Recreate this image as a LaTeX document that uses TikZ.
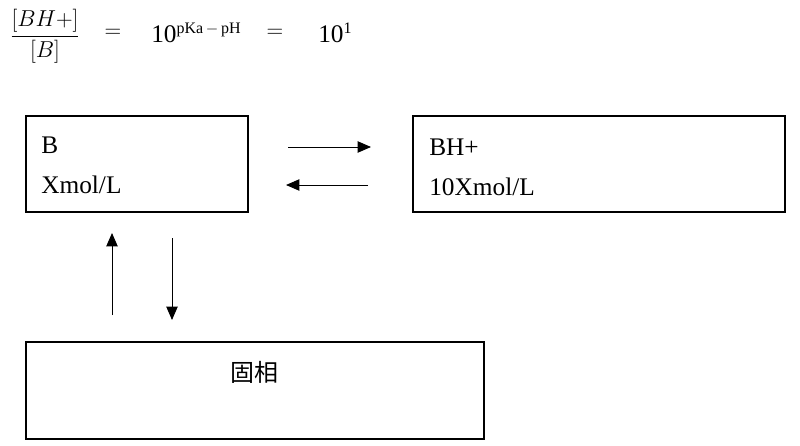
\documentclass[tikz,border=0pt]{standalone}
\usepackage{fontspec}
\setmainfont{Liberation Serif}
\newfontfamily\jpfont{Noto Sans CJK JP}
\usetikzlibrary{arrows.meta, positioning}

\begin{document}
\begin{tikzpicture}[
        x=0.75pt, y=-0.75pt, >=Triangle, font=\fontsize{19}{22}\selectfont,
        box/.style={draw, line width=1.4pt, anchor=north west, inner sep=0pt},
        lbl/.style={anchor=base west, inner sep=0pt},
        eq/.style={inner sep=0pt},
        ar/.style={-{Triangle[length=10pt, width=8.5pt]}, line width=0.7pt},
      ]
        \useasboundingbox (0,0) rectangle (800,446);
        % formula line
        \node[eq] (frac) at (45,36) {$\displaystyle\frac{[BH+]}{[B]}$};
        \node[eq] (eq1) at (113,33) {$=$};
        \node[eq, anchor=base west] (pow) at (151,42) {10\textsuperscript{\fontsize{12}{13}\selectfont pKa\,$-$\,pH}};
        \node[eq] (eq2) at (275,33) {$=$};
        \node[eq, anchor=base west] (res) at (318,42) {10\textsuperscript{\fontsize{12}{13}\selectfont 1}};
        % boxes
        \node[box, minimum width=166.5pt, minimum height=72pt] (base) at (25,115) {};
        \node[box, minimum width=279pt, minimum height=72pt] (acid) at (412,115) {};
        \node[box, minimum width=343.5pt, minimum height=72.75pt] (solid) at (25,341) {};
        \node[lbl] (bname) at (41,153) {B};
        \node[lbl] (bconc) at (41,193) {Xmol/L};
        \node[lbl] (aname) at (429,155) {BH+};
        \node[lbl] (aconc) at (429,195) {10Xmol/L};
        \node[eq] (sname) at (254,372) {\jpfont\fontsize{18}{20}\selectfont 固相};
        % equilibrium arrows
        \coordinate (r1) at (288,147);
        \coordinate (r2) at (371,147);
        \coordinate (l1) at (368,185);
        \coordinate (l2) at (286,185);
        \draw[ar] (r1) -- (r2);
        \draw[ar] (l1) -- (l2);
        \coordinate (u1) at (112,315);
        \coordinate (u2) at (112,233);
        \coordinate (d1) at (172,238);
        \coordinate (d2) at (172,320);
        \draw[ar] (u1) -- (u2);
        \draw[ar] (d1) -- (d2);
      \end{tikzpicture}
\end{document}
